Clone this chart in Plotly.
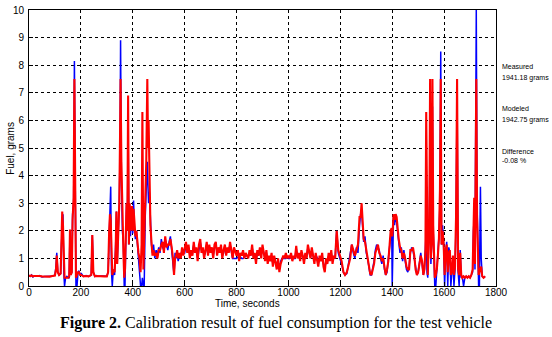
import plotly.graph_objects as go

# ---- data ----
time_a = [0, 5, 10, 15, 20, 30, 40, 50, 60, 70, 80, 90, 100, 104, 107, 111, 116, 122, 125, 128,
          131, 134, 137, 141, 146, 151, 155, 158, 161, 165, 168, 172, 175, 178, 181, 185, 189, 193, 197, 202,
          210, 220, 230, 240, 244, 248, 254, 260, 270, 280, 290, 300, 305, 309, 312, 315, 318, 321, 325, 330,
          334, 337, 340, 344, 348, 351, 353, 356, 360, 364, 367, 370, 373, 376, 379, 382, 385, 388, 391, 394,
          397, 400, 403, 406, 410, 414, 418, 422, 426, 430, 434, 437, 441, 444, 448, 452, 456, 459, 461, 464,
          468, 472, 476, 480, 485, 490, 495, 500, 505, 510, 515, 520, 525, 530, 535, 540, 545, 550, 555, 559,
          563, 567, 571, 575]
meas_a = [.38, .35, .40, .33, .36, .35, .38, .33, .34, .35, .36, .35, .40, .70, 1.20, .50, .40, .45, 1.50, 2.20,
          2.60, .50, .00, .30, .35, .30, .30, 2.00, .40, .50, 2.60, 3.00, 8.15, 4.00, .00, .00, .50, .55, .40, .45,
          .35, .38, .35, .40, 1.85, .50, .35, .38, .35, .36, .35, .35, .50, 2.20, 3.00, 3.60, .50, .00, .60, .40,
          1.50, 2.70, .80, 2.00, 3.00, 5.00, 8.90, 4.00, 2.00, 1.50, .00, .00, 2.00, 3.00, 2.00, 5.70, 1.50, 2.90, 1.80, 2.50,
          2.80, 1.90, 3.10, 2.20, 1.70, 2.00, 1.40, 1.00, .60, .00, .00, .30, .00, .00, 2.50, 4.00, 4.50, 3.50, 3.00, 3.40,
          2.00, 1.50, 1.20, 1.50, 1.00, 1.30, 1.10, 1.40, 1.20, 1.70, 1.40, 1.30, 1.70, 1.50, 1.30, 1.60, 1.80, 1.30, .90, .40,
          1.20, 1.00, 1.20, .90]
mod_a = [.38, .36, .38, .35, .36, .37, .36, .35, .34, .35, .34, .36, .38, .60, 1.10, .50, .40, .45, 1.30, 2.70,
         2.20, .50, .30, .30, .30, .30, .35, 2.05, .40, .50, 2.40, 3.20, 7.50, 4.00, .30, .40, .50, .50, .40, .40,
         .35, .36, .35, .40, 1.85, .50, .35, .36, .35, .36, .35, .35, .50, 2.00, 2.60, 2.40, .50, .40, .60, .50,
         1.30, 2.70, .80, 2.30, 3.00, 5.50, 7.50, 4.50, 2.00, 1.20, .30, .60, 1.80, 3.00, 2.00, 6.90, 1.50, 3.00, 2.00, 2.70,
         2.90, 2.00, 2.80, 2.40, 1.80, 2.00, 1.50, 1.20, 1.00, .50, 1.50, 6.30, .60, 1.50, 3.50, 4.50, 7.50, 5.00, 6.00, 3.40,
         2.20, 1.60, 1.10, 1.30, 1.10, 1.20, 1.00, 1.30, 1.30, 1.50, 1.60, 1.20, 1.80, 1.40, 1.50, 1.50, 1.70, 1.40, 1.00, .40,
         1.00, 1.10, 1.30, 1.00]

time_b = list(range(580, 1181, 5))
meas_b = [1.1, 1.1, 1.3, 1.2, 1.2, 1.5, 1.3, 1.4, 1.1, 1.2,
          1.2, 1.5, 1.3, 1.3, 1.0, 1.4, 1.6, 1.3, 1.3, 1.1,
          1.2, 1.5, 1.2, 1.4, 1.3, 1.3, 1.1, 1.4, 1.5, 1.2,
          1.3, 1.3, 1.4, 1.1, 1.2, 1.4, 1.2, 1.3, 1.3, 1.5,
          1.2, 1.0, 1.0, 1.0, 1.0, 1.05, 1.0, 1.05, 1.0, 1.0,
          1.05, 1.1, 1.1, 1.05, 1.2, 1.1, 1.4, 1.1, 1.1, 0.9,
          1.2, 1.1, 1.3, 1.1, 1.4, 1.2, 1.0, 1.2, 0.9, 1.0,
          1.0, 1.1, 0.8, 1.0, 0.9, 0.7, 0.9, 0.6, 0.9, 1.0,
          1.0, 1.0, 1.0, 1.05, 1.0, 1.0, 1.05, 1.0, 1.0, 1.0,
          1.35, 1.05, 1.1, 1.0, 1.2, 1.1, 0.9, 1.1, 1.05, 1.4,
          1.2, 1.05, 1.3, 1.1, 0.9, 1.1, 1.05, 0.8, 1.0, 0.95,
          1.1, 0.8, 0.6, 0.95, 0.85, 1.1, 0.95, 1.2, 0.9, 1.05,
          1.0]
mod_b = [1.2, 1.0, 1.4, 1.1, 1.3, 1.6, 1.2, 1.5, 1.0, 1.3,
         1.1, 1.6, 1.2, 1.4, 0.9, 1.5, 1.7, 1.2, 1.4, 1.0,
         1.3, 1.6, 1.1, 1.5, 1.2, 1.4, 1.0, 1.5, 1.6, 1.1,
         1.4, 1.2, 1.5, 1.0, 1.3, 1.5, 1.1, 1.4, 1.2, 1.6,
         1.3, 1.0, 1.4, 1.2, 1.1, 1.3, 0.9, 1.2, 1.1, 1.3,
         1.0, 1.2, 1.1, 1.0, 1.3, 1.1, 1.5, 1.0, 1.2, 0.8,
         1.3, 1.1, 1.4, 1.0, 1.5, 1.2, 0.9, 1.3, 0.8, 1.1,
         0.9, 1.2, 0.7, 1.1, 0.9, 0.6, 1.0, 0.5, 0.8, 1.0,
         1.1, 1.0, 1.2, 1.0, 1.1, 1.0, 1.2, 0.9, 1.1, 1.0,
         1.45, 1.0, 1.2, 0.9, 1.3, 1.1, 0.8, 1.2, 1.0, 1.5,
         1.3, 1.0, 1.4, 1.1, 0.8, 1.2, 1.0, 0.7, 1.1, 0.9,
         1.2, 0.7, 0.5, 1.0, 0.8, 1.2, 0.9, 1.3, 0.8, 1.1,
         1.0]

time_c = [1186, 1192, 1198, 1205, 1212, 1218, 1225, 1232, 1238, 1244, 1250, 1256, 1262, 1268, 1274, 1278, 1282, 1286, 1290, 1295,
          1300, 1305, 1310, 1315, 1320, 1325, 1330, 1335, 1340, 1345, 1350, 1355, 1360, 1365, 1370, 1375, 1380, 1385, 1390, 1394,
          1398, 1400, 1402, 1405, 1409, 1413, 1417, 1421, 1425, 1430, 1435, 1440, 1445, 1450, 1455, 1460, 1465, 1470, 1475, 1480,
          1485, 1490, 1495, 1500, 1505, 1510, 1515, 1520, 1524, 1528, 1531, 1534, 1537, 1540, 1543, 1546, 1549, 1552, 1555, 1558,
          1561, 1564, 1568, 1572, 1576, 1580, 1584, 1587, 1590, 1594, 1598, 1602, 1606, 1610, 1614, 1618, 1622, 1626, 1630, 1634,
          1638, 1642, 1646, 1650, 1654, 1658, 1662, 1666, 1670, 1675, 1680, 1685, 1690, 1695, 1700, 1705, 1710, 1713, 1716, 1719,
          1722, 1724, 1727, 1730, 1733, 1736, 1740, 1743, 1747, 1752, 1758]
meas_c = [2.00, 1.20, 1.00, .80, .50, .40, .45, .80, 1.10, 1.50, 1.20, 1.00, 1.40, 1.20, 2.20, 2.60, 2.70, 2.00, 1.60, 1.80,
          1.20, 1.00, .60, .40, .40, .60, .90, 1.30, 1.50, 1.40, 1.30, 1.00, .80, 1.10, .60, .40, .50, 1.00, 1.40, 1.80,
          2.10, .00, 1.90, 2.50, 2.20, 2.60, 2.30, 1.80, 1.60, 1.20, 1.40, .90, 1.30, .90, .60, .50, .70, 1.20, 1.40, 1.30,
          1.00, .60, .40, .50, .90, 1.20, .80, .40, .60, 1.20, 2.00, .50, .30, 1.50, 2.00, 6.00, .80, 1.50, 6.50, 2.00,
          .30, .00, .00, .50, 1.20, 1.80, 3.00, 8.50, 1.50, 2.20, 1.50, .00, 1.20, 1.60, .00, 1.40, 1.20, .00, .50, 1.00,
          .00, .60, 2.20, 7.00, .50, .00, 1.30, .30, .35, .00, .30, .35, .30, .35, .30, .40, .50, 2.00, 2.50, .60,
          5.00, 10.0, 3.00, .80, .00, .00, 3.60, 1.00, .35, .30, .35]
mod_c = [2.00, 1.30, 1.10, .90, .50, .40, .50, .80, 1.00, 1.50, 1.30, 1.10, 1.30, 1.50, 2.50, 2.50, 3.00, 2.20, 1.70, 1.60,
         1.30, 1.10, .70, .45, .40, .60, .80, 1.20, 1.40, 1.50, 1.20, 1.10, .90, 1.00, .70, .40, .60, .90, 1.50, 2.00,
         2.10, 1.80, 2.00, 2.60, 2.40, 2.60, 2.50, 2.00, 1.70, 1.40, 1.30, 1.00, 1.20, 1.00, .70, .60, .60, 1.30, 1.30, 1.40,
         1.10, .60, .40, .50, .80, 1.10, .90, .40, .60, 1.30, 6.30, 1.00, .40, 1.40, 2.20, 7.50, 1.00, 1.50, 7.50, 2.20,
         .50, .30, .40, .60, 1.10, 1.70, 3.50, 7.50, 1.50, 2.00, 1.60, .40, 1.30, 1.50, .50, 1.20, 1.30, .40, .50, 1.10,
         .40, .70, 2.50, 7.50, .60, .40, 1.20, .40, .30, .35, .30, .35, .30, .35, .30, .40, .60, 2.80, 3.20, .80,
         4.00, 7.50, 2.50, .70, .40, .50, .60, .70, .35, .30, .35]

time_s = time_a + time_b + time_c
measured_g = meas_a + meas_b + meas_c
modeled_g = mod_a + mod_b + mod_c

x_ticks = [0, 200, 400, 600, 800, 1000, 1200, 1400, 1600, 1800]
y_ticks = list(range(0, 11))

side_labels = ["Measured", "1941.18 grams", "Modeled", "1942.75 grams", "Difference", "-0.08 %"]
side_label_y = [0.794, 0.752, 0.642, 0.603, 0.489, 0.454]

fig = go.Figure()
fig.add_trace(go.Scatter(x=time_s, y=measured_g, mode="lines", name="Measured",
                         line=dict(color="#0000ff", width=1.5)))
fig.add_trace(go.Scatter(x=time_s, y=modeled_g, mode="lines", name="Modeled",
                         line=dict(color="#ff0000", width=2.1)))

axis_common = dict(showline=True, linecolor="black", linewidth=1, mirror=True,
                   ticks="inside", ticklen=4, tickcolor="black",
                   showgrid=True, gridcolor="black", griddash="dot", gridwidth=1,
                   zeroline=False, ticklabeloverflow="allow",
                   tickfont=dict(family="Liberation Sans, Arial", size=10, color="black"))

fig.update_xaxes(range=[0, 1800], tickvals=x_ticks, ticklabelstandoff=-3, **axis_common)
fig.update_yaxes(range=[0, 10], tickvals=y_ticks, ticklabelstandoff=2, **axis_common)

annotations = []
for txt, yy in zip(side_labels, side_label_y):
    annotations.append(dict(text=txt, x=1.008, y=yy, xref="paper", yref="paper",
                            xanchor="left", yanchor="middle", showarrow=False,
                            font=dict(family="Liberation Sans, Arial", size=7, color="black")))
annotations.append(dict(text="Time, seconds", x=0.467, y=-0.062, xref="paper", yref="paper",
                        xanchor="center", yanchor="middle", showarrow=False,
                        font=dict(family="Liberation Sans, Arial", size=10, color="black")))
annotations.append(dict(text="Fuel, grams", x=-0.041, y=0.5, xref="paper", yref="paper",
                        xanchor="center", yanchor="middle", textangle=-90, showarrow=False,
                        font=dict(family="Liberation Sans, Arial", size=10, color="black")))
annotations.append(dict(text="<b>Figure 2.</b> Calibration result of fuel consumption for the test vehicle",
                        x=0.529, y=-0.133, xref="paper", yref="paper",
                        xanchor="center", yanchor="middle", showarrow=False,
                        font=dict(family="Liberation Serif, Times New Roman", size=16, color="black")))

fig.update_layout(width=552, height=337, margin=dict(l=29, r=56, t=4, b=51),
                  paper_bgcolor="white", plot_bgcolor="white", showlegend=False,
                  annotations=annotations)

fig.write_html("out.html")
